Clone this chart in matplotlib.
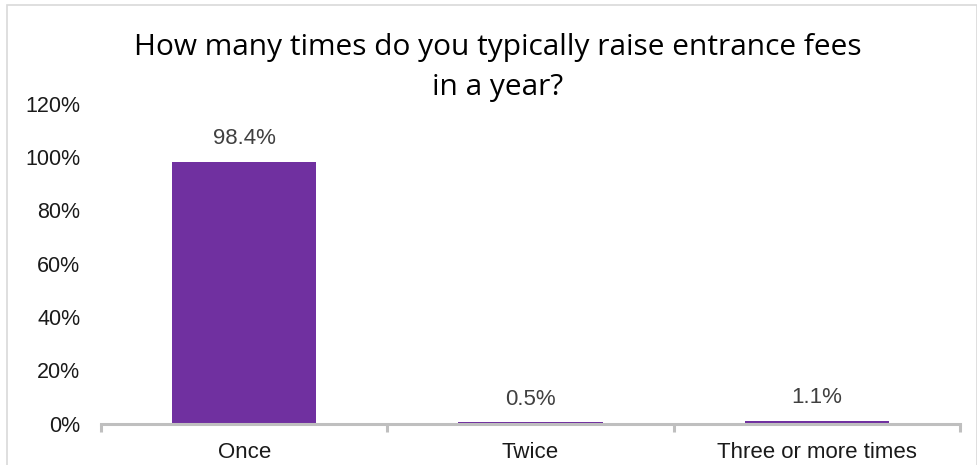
import matplotlib
matplotlib.use("Agg")
import matplotlib.pyplot as plt
from matplotlib.patches import Rectangle
import numpy as np

categories = ["Once", "Twice", "Three or more times"]
values = [98.4, 0.5, 1.1]
yticks = [0, 20, 40, 60, 80, 100, 120]
ytick_labels = ["0%", "20%", "40%", "60%", "80%", "100%", "120%"]
title_lines = ["How many times do you typically raise entrance fees", "in a year?"]

W, H = 978, 465
fig = plt.figure(figsize=(W / 100, H / 100), dpi=100)
plt.rcParams['font.family'] = ['Liberation Sans', 'DejaVu Sans']

# chart border
fig.patches.append(Rectangle((7 / W, -0.1), (977 - 7) / W, (H - 5) / H + 0.1,
                             transform=fig.transFigure, fill=False,
                             edgecolor="#D9D9D9", linewidth=1.2))

ax = fig.add_axes([101 / W, (H - 423.5) / H, (960 - 101) / W, (423.5 - 104) / H])
x = np.arange(len(categories))
bars = ax.bar(x, values, width=0.505, color="#7030A0")
ax.set_xlim(-0.5, len(categories) - 0.5)
ax.set_ylim(0, 120)

for b, v in zip(bars, values):
    ax.annotate(f"{v:.1f}%", (b.get_x() + b.get_width() / 2, v),
                xytext=(0, 9), textcoords="offset points",
                ha="center", va="bottom", fontsize=16, color="#404040")

for s in ["top", "right", "left"]:
    ax.spines[s].set_visible(False)
ax.spines["bottom"].set_color("#BFBFBF")
ax.spines["bottom"].set_linewidth(2.2)

ax.set_yticks(yticks)
ax.set_yticklabels(ytick_labels, fontsize=15.5, color="#1a1a1a")
ax.tick_params(axis="y", length=0, pad=15)

ax.set_xticks(x)
ax.set_xticklabels(categories, fontsize=16, color="#1a1a1a")
ax.tick_params(axis="x", which="major", length=0, pad=13.5)
ax.set_xticks(np.arange(-0.5, len(categories)), minor=True)
ax.tick_params(axis="x", which="minor", length=6, width=2.2, color="#BFBFBF", direction="out")

fig.text(498 / W, 1 - 47 / H, title_lines[0], ha="center", va="center",
         fontsize=21.5, family=["Open Sans", "DejaVu Sans"], color="#000000")
fig.text(498 / W, 1 - 87 / H, title_lines[1], ha="center", va="center",
         fontsize=21.5, family=["Open Sans", "DejaVu Sans"], color="#000000")

fig.savefig("out.png", dpi=100)
